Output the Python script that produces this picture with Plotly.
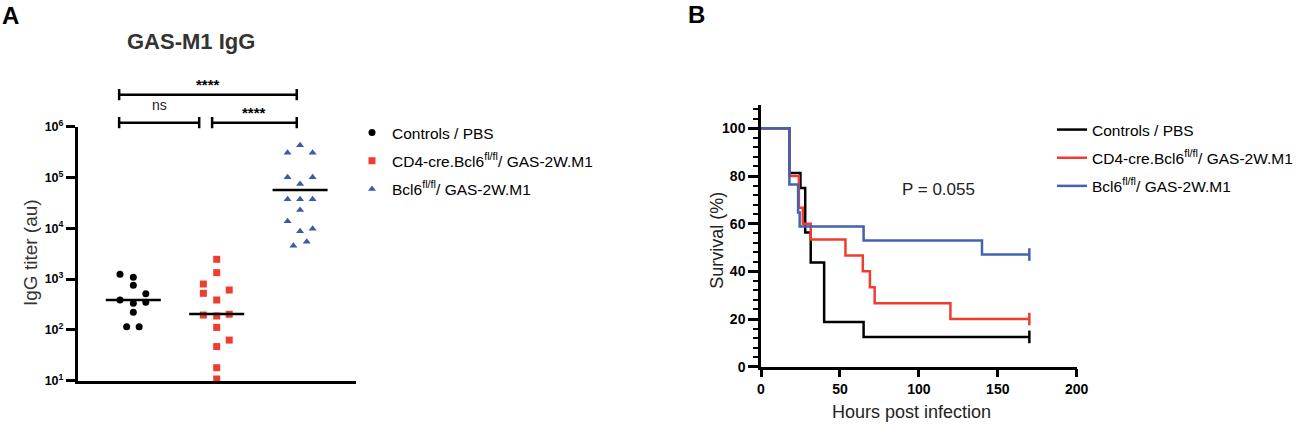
import plotly.graph_objects as go

# ---- Panel A: GAS-M1 IgG titers (log scale) ----
group_names = ['Controls / PBS',
               'CD4-cre.Bcl6<sup>fl/fl</sup>/ GAS-2W.M1',
               'Bcl6<sup>fl/fl</sup>/ GAS-2W.M1']

ctrl_titer = [1242, 1084, 755, 516, 388, 349, 334, 222, 116, 116]
ctrl_jitter = [-0.16, 0, 0, 0.15, -0.16, 0.15, 0, 0, -0.08, 0.07]

cd4_titer = [2455, 1337, 800, 525, 610, 388, 196, 188, 203, 112, 63, 47, 18, 10.8]
cd4_jitter = [0, 0, -0.16, -0.16, 0.15, 0, -0.16, 0, 0.15, 0, 0.15, 0, 0, 0]

bcl6_titer = [430000, 308000, 308000, 101000, 101000, 74500, 37200, 37200, 37200,
              22900, 13700, 9820, 8730, 5450, 4540]
bcl6_jitter = [0, -0.15, 0.15, -0.15, 0.15, 0, -0.15, 0, 0.15, 0, -0.15, 0.15, 0, 0.08, -0.08]

medians = [388, 205, 56800]

# significance comparisons (group i, group j, label)
comparisons = [(0, 2, '****'), (0, 1, 'ns'), (1, 2, '****')]

# ---- Panel B: survival ----
ctrl_hours = [0, 18, 25, 28, 31.5, 40, 65, 170]
ctrl_surv = [100, 81.25, 75, 56.25, 43.75, 18.75, 12.5, 12.5]

cd4_hours = [0, 18, 24, 26.5, 31.5, 53.5, 64.5, 69, 72, 120, 170]
cd4_surv = [100, 80, 66.67, 60, 53.33, 46.67, 40, 33.33, 26.67, 20, 20]

bcl6_hours = [0, 18, 23.5, 24.5, 65, 140, 170]
bcl6_surv = [100, 76.47, 64.71, 58.82, 52.94, 47.06, 47.06]

p_value = 'P = 0.055'

colors = ['#000000', '#F03C2E', '#3D5AA8']
symbols = ['circle', 'square', 'triangle-up']

FONT = 'Liberation Sans, Arial, sans-serif'

fig = go.Figure()

titers = [ctrl_titer, cd4_titer, bcl6_titer]
jitters = [ctrl_jitter, cd4_jitter, bcl6_jitter]
for g in range(3):
    fig.add_trace(go.Scatter(
        x=[g + j for j in jitters[g]], y=titers[g],
        mode='markers', name=group_names[g], legend='legend', legendgroup='a%d' % g,
        marker=dict(symbol=symbols[g], size=7, color=colors[g]),
        cliponaxis=False, xaxis='x', yaxis='y'))
    # median bar
    fig.add_trace(go.Scatter(
        x=[g - 0.33, g + 0.33], y=[medians[g], medians[g]],
        mode='lines', line=dict(color='black', width=2.5), legendgroup='a%d' % g,
        showlegend=False, hoverinfo='skip', xaxis='x', yaxis='y'))

hours = [ctrl_hours, cd4_hours, bcl6_hours]
survs = [ctrl_surv, cd4_surv, bcl6_surv]
line_colors = ['#000000', '#F03C2E', '#4262B2']
for g in range(3):
    fig.add_trace(go.Scatter(
        x=hours[g], y=survs[g], mode='lines', line_shape='hv',
        line=dict(color=line_colors[g], width=2.5), legendgroup='b%d' % g,
        name=group_names[g], legend='legend2', xaxis='x2', yaxis='y2'))
    # censor tick at the end of follow-up
    fig.add_trace(go.Scatter(
        x=[hours[g][-1]], y=[survs[g][-1]], mode='markers', legendgroup='b%d' % g,
        marker=dict(symbol='line-ns-open', size=9, color=line_colors[g],
                    line=dict(color=line_colors[g], width=2.5)),
        showlegend=False, cliponaxis=False, xaxis='x2', yaxis='y2'))

# significance brackets above panel A
shapes = []
annotations = []
bracket_y = {(0, 2): 1.126, (0, 1): 1.0157, (1, 2): 1.0157}
for i, j, label in comparisons:
    x0 = i - 0.17 + (0.115 if i == 1 else 0)
    x1 = j - 0.04 - (0.17 if j == 1 else 0)
    yb = bracket_y[(i, j)]
    ln = dict(color='black', width=2.5)
    shapes.append(dict(type='line', xref='x', yref='y domain', x0=x0, x1=x1, y0=yb, y1=yb, line=ln))
    for xe in (x0, x1):
        shapes.append(dict(type='line', xref='x', yref='y domain', x0=xe, x1=xe,
                           y0=yb - 0.022, y1=yb + 0.022, line=ln))
    if label == 'ns':
        annotations.append(dict(xref='x', yref='y domain', x=(x0 + x1) / 2, y=yb + 0.03,
                                text='ns', showarrow=False, yanchor='bottom',
                                font=dict(family=FONT, size=14, color='#222')))
    else:
        annotations.append(dict(xref='x', yref='y domain', x=(x0 + x1) / 2, y=yb + 0.0,
                                text='<b>' + label + '</b>', showarrow=False, yanchor='bottom',
                                font=dict(family=FONT, size=15, color='black')))

annotations += [
    dict(xref='paper', yref='paper', x=0.0, y=1 - 16 / 425, xanchor='left', yanchor='middle',
         text='<b>A</b>', showarrow=False, font=dict(family=FONT, size=24, color='black')),
    dict(xref='paper', yref='paper', x=686 / 1298, y=1 - 14 / 425, xanchor='left', yanchor='middle',
         text='<b>B</b>', showarrow=False, font=dict(family=FONT, size=24, color='black')),
    dict(xref='paper', yref='paper', x=190.7 / 1298, y=1 - 41.7 / 425, xanchor='center', yanchor='middle',
         text='<b>GAS-M1 IgG</b>', showarrow=False, font=dict(family=FONT, size=22, color='#333')),
    dict(xref='paper', yref='paper', x=30 / 1298, y=1 - 253 / 425, xanchor='center', yanchor='middle',
         text='IgG titer (au)', textangle=-90, showarrow=False, font=dict(family=FONT, size=19, color='#333')),
    dict(xref='paper', yref='paper', x=716.7 / 1298, y=1 - 240 / 425, xanchor='center', yanchor='middle',
         text='Survival (%)', textangle=-90, showarrow=False, font=dict(family=FONT, size=18, color='#222')),
    dict(xref='paper', yref='paper', x=911.3 / 1298, y=1 - 411.7 / 425, xanchor='center', yanchor='middle',
         text='Hours post infection', showarrow=False, font=dict(family=FONT, size=18, color='#222')),
    dict(xref='x2', yref='y2', x=112.7, y=74.5, xanchor='center', yanchor='middle',
         text=p_value, showarrow=False, font=dict(family=FONT, size=17, color='#222')),
]

log_ticks = [10, 100, 1000, 10000, 100000, 1000000]
log_text = ['<b>10<sup>%d</sup></b>' % k for k in range(1, 7)]

fig.update_layout(
    width=1298, height=425,
    margin=dict(l=0, r=0, t=0, b=0, autoexpand=False),
    paper_bgcolor='white', plot_bgcolor='white',
    font=dict(family=FONT, color='black'),
    shapes=shapes, annotations=annotations,
    xaxis=dict(domain=[77.7 / 1298, 355.7 / 1298], range=[-0.667, 2.667], anchor='y',
               showline=True, linewidth=2.5, linecolor='black', ticks='', automargin=False,
               showticklabels=False, showgrid=False, zeroline=False),
    yaxis=dict(domain=[1 - 380.7 / 425, 1 - 126.7 / 425], type='log', range=[1, 6], anchor='x',
               tickvals=log_ticks, ticktext=log_text, ticks='outside', ticklen=9, tickwidth=2.5,
               tickcolor='black', showline=True, linewidth=2.5, linecolor='black', automargin=False,
               tickfont=dict(family=FONT, size=12.5, color='black'),
               showgrid=False, zeroline=False),
    xaxis2=dict(domain=[761 / 1298, 1076.7 / 1298], range=[0, 200], anchor='y2',
                tickvals=[0, 50, 100, 150, 200], ticks='outside', ticklen=8, tickwidth=2.5,
                tickcolor='black', showline=True, linewidth=2.5, linecolor='black', automargin=False,
                tickfont=dict(family=FONT, size=14, color='black', weight='bold'),
                showgrid=False, zeroline=False),
    yaxis2=dict(domain=[1 - 366.7 / 425, 1 - 104.5 / 425], range=[0, 110], anchor='x2',
                tickvals=[0, 20, 40, 60, 80, 100], ticks='outside', ticklen=10, tickwidth=2.5,
                tickcolor='black', showline=True, linewidth=2.5, linecolor='black', automargin=False,
                minor=dict(dtick=4, ticks='outside', ticklen=5, tickwidth=2, tickcolor='black'),
                tickfont=dict(family=FONT, size=14, color='black', weight='bold'),
                showgrid=False, zeroline=False),
    legend=dict(x=352 / 1298, y=1 - 116 / 425, xanchor='left', yanchor='top',
                bgcolor='rgba(0,0,0,0)', font=dict(family=FONT, size=15.5, color='black'),
                tracegroupgap=5),
    legend2=dict(x=1.0, y=1 - 113 / 425, xanchor='right', yanchor='top',
                 bgcolor='rgba(0,0,0,0)', font=dict(family=FONT, size=15.5, color='black'),
                 tracegroupgap=5),
)

# the page body has a default 8px margin; drop it so the figure sits at the window origin
fig.write_html('out.html', config={'displayModeBar': False},
               post_script="document.body.style.margin='0';")
